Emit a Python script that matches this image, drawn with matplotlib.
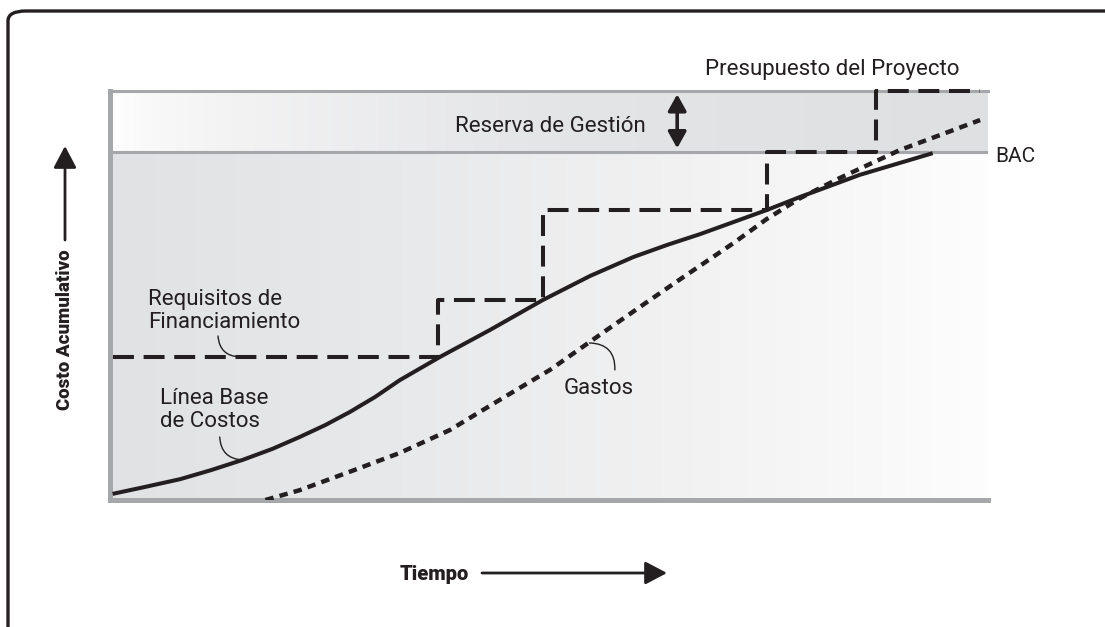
import matplotlib
matplotlib.use("Agg")
import matplotlib.pyplot as plt
import numpy as np
from matplotlib.colors import LinearSegmentedColormap
from matplotlib.patches import FancyBboxPatch, FancyArrowPatch

# ---------------- data (time 0-100, cumulative cost 0-100) ----------------
baseline_t = [0.3, 4.0, 8.0, 11.5, 15.1, 18.5, 21.6, 24.5, 27.3, 30.2, 33.0, 37.6, 43.3, 49.3,
              54.7, 59.6, 63.5, 67.2, 74.8, 78.6, 85.4, 93.7]
baseline_c = [1.5, 3.2, 5.1, 7.3, 9.8, 12.5, 15.4, 18.3, 21.5, 25.2, 29.3, 35.0, 41.6, 48.9,
              54.8, 59.4, 62.4, 65.0, 70.9, 74.1, 79.5, 84.8]

spend_t = [17.7, 21.6, 27.3, 33.0, 38.7, 44.4, 50.1, 56.6, 61.5, 65.3, 71.0, 74.8, 78.6, 83.1, 90.0, 94.5, 99.1]
spend_c = [0.0, 2.4, 6.9, 11.5, 17.1, 24.5, 31.8, 41.6, 48.9, 54.5, 62.8, 68.7, 73.8, 78.7, 85.6, 89.2, 92.9]

funding_t = [0.3, 37.4, 49.3, 74.8, 87.2, 99.1]
funding_c = [35.0, 48.9, 70.9, 85.1, 100.0]

bac = 85.1
budget = 100.0

W, H = 1105, 627
fig = plt.figure(figsize=(W / 100, H / 100), dpi=100)

REG = ["Roboto", "DejaVu Sans"]
BOLD = ["Roboto", "DejaVu Sans"]
INK = "#231f20"
GRAY = "#a6a7aa"

def px(x, y):
    return x / W, 1 - y / H

# rounded frame
frame = FancyBboxPatch(px(8, 640), (1140 - 8) / W, (640 - 11) / H,
                       boxstyle="round,pad=0,rounding_size=0.016",
                       transform=fig.transFigure, fill=False, lw=2.4,
                       edgecolor=INK, clip_on=False)
fig.patches.append(frame)

ax = fig.add_axes([110 / W, 1 - 500 / H, 878 / W, 409 / H])
ax.set_xlim(0, 100)
ax.set_ylim(0, 100)
ax.set_xticks([])
ax.set_yticks([])
for s in ["top", "right"]:
    ax.spines[s].set_visible(False)
for s in ["left", "bottom"]:
    ax.spines[s].set_color(GRAY)
    ax.spines[s].set_linewidth(3.6)
ax.patch.set_alpha(0)

# gradients
low_cmap = LinearSegmentedColormap.from_list("low", ["#e1e2e4", "#e8e9ea", "#f2f2f3", "#fdfdfd"])
up_cmap = LinearSegmentedColormap.from_list("up", ["#ffffff", "#f2f2f3", "#e4e5e7", "#dfe0e2"])
grad = np.linspace(0, 1, 256)[None, :]
ax.imshow(grad, cmap=low_cmap, extent=[0, 100, 0, bac], aspect="auto", zorder=0)
ax.imshow(grad ** 0.6, cmap=up_cmap, extent=[0, 100, bac, budget], aspect="auto", zorder=0)

ax.axhline(bac, color=GRAY, lw=2.2, zorder=1)
ax.axhline(budget, color=GRAY, lw=2.2, zorder=1, clip_on=False)

# series
ax.plot(baseline_t, baseline_c, color=INK, lw=2.9, solid_capstyle="butt",
        solid_joinstyle="round", zorder=4)
ax.plot(spend_t, spend_c, color=INK, lw=3.2, dashes=(1.9, 1.4), zorder=4)
ax.step(funding_t, funding_c + [funding_c[-1]], where="post", color=INK, lw=2.9,
        dashes=(5.2, 2.4), zorder=4, clip_on=False)

# double arrow (management reserve)
ax.annotate("", xy=(64.6, 99.2), xytext=(64.6, 86.0),
            arrowprops=dict(arrowstyle="<|-|>,head_length=0.9,head_width=0.5", color=INK, lw=2.6,
                            mutation_scale=11, shrinkA=0, shrinkB=0),
            zorder=5, annotation_clip=False)

# leader arcs
arc = dict(arrowstyle="-", color=INK, lw=1.0, shrinkA=0, shrinkB=0)
ax.annotate("", xy=(14.8, 35.0), xytext=(12.3, 40.1),
            arrowprops=dict(connectionstyle="arc3,rad=0.45", **arc))
ax.annotate("", xy=(15.1, 9.8), xytext=(12.5, 15.4),
            arrowprops=dict(connectionstyle="arc3,rad=0.45", **arc))
ax.annotate("", xy=(54.6, 38.4), xytext=(57.5, 31.8),
            arrowprops=dict(connectionstyle="arc3,rad=0.5", **arc))

# texts
fs = 16
fig.text(*px(832, 69), "Presupuesto del Proyecto", family=REG, fontsize=fs, color=INK, ha="center", va="center")
fig.text(*px(550, 127), "Reserva de Gestión", family=REG, fontsize=fs, color=INK, ha="center", va="center")
fig.text(*px(995, 156), "BAC", family=REG, fontsize=fs - 1, color=INK, ha="left", va="center")
fig.text(*px(148, 311), "Requisitos de\nFinanciamiento", family=REG, fontsize=fs, color=INK,
         ha="left", va="center", linespacing=1.15)
fig.text(*px(160, 410), "Línea Base\nde Costos", family=REG, fontsize=fs, color=INK,
         ha="left", va="center", linespacing=1.15)
fig.text(*px(599, 389), "Gastos", family=REG, fontsize=fs, color=INK, ha="center", va="center")

fig.text(*px(65, 330), "Costo Acumulativo", family=BOLD, fontweight="heavy", fontsize=13.5,
         color=INK, ha="center", va="center", rotation=90)
fig.text(*px(434, 575), "Tiempo", family=BOLD, fontweight="heavy", fontsize=14.5,
         color=INK, ha="center", va="center")

# axis arrows
fig.add_artist(FancyArrowPatch(px(65, 240), px(65, 146), transform=fig.transFigure,
               arrowstyle="-|>,head_length=0.95,head_width=0.5", color=INK, lw=2.0,
               mutation_scale=14, shrinkA=0, shrinkB=0))
fig.add_artist(FancyArrowPatch(px(482, 573), px(667, 573), transform=fig.transFigure,
               arrowstyle="-|>,head_length=0.95,head_width=0.5", color=INK, lw=2.0,
               mutation_scale=14, shrinkA=0, shrinkB=0))

fig.savefig("out.png", dpi=100, facecolor="white")
